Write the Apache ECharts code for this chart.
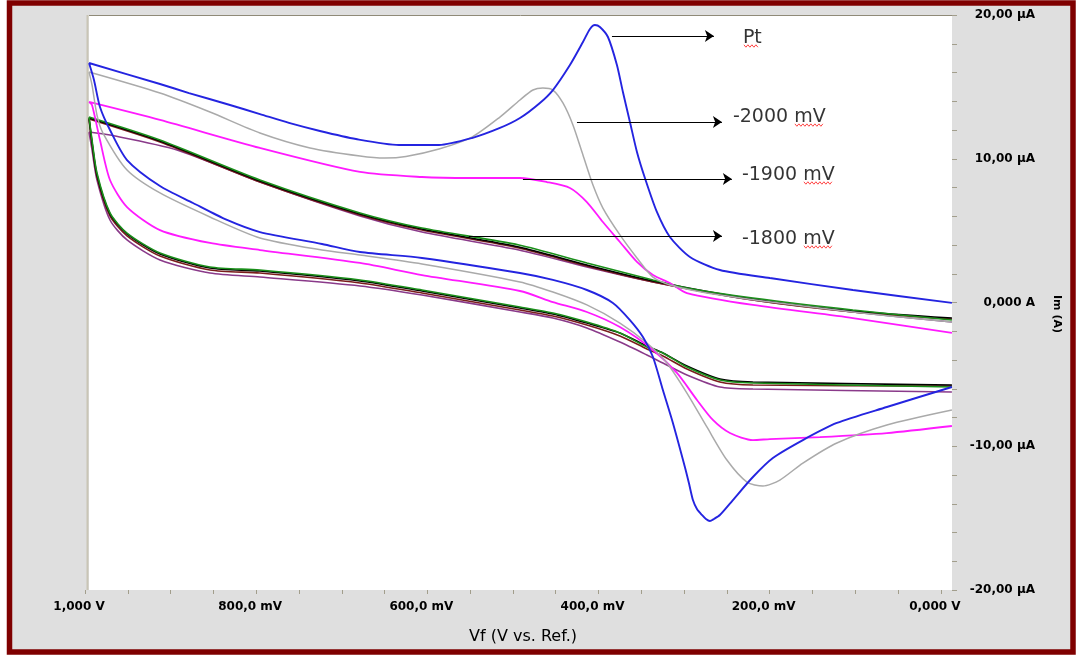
<!DOCTYPE html>
<html>
<head>
<meta charset="utf-8">
<script src="https://cdn.jsdelivr.net/npm/echarts@6/dist/echarts.min.js"></script>
<style>
  html, body { margin: 0; padding: 0; background: #ffffff; }
  #chart { width: 1076px; height: 657px; }
</style>
</head>
<body>
<div id="chart"></div>
<script>
// Cyclic voltammograms: [potential (V vs. Ref.), current (µA)].
// Each scan: forward sweep 1 V -> 0 V, a break (null) at the vertex, then the return sweep.
const ptScan = [
  [0.9953,16.66],[0.9124,15.20],[0.8785,14.57],[0.8306,13.74],[0.7956,13.11],[0.7617,12.49],
  [0.7255,11.93],[0.6834,11.37],[0.6332,10.96],[0.5864,10.96],[0.5479,11.44],[0.5152,12.14],
  [0.4918,12.83],[0.4685,13.88],[0.4533,14.78],[0.4334,16.52],[0.4182,18.12],[0.4100,19.03],
  [0.4042,19.30],[0.3984,19.17],[0.3890,18.47],[0.3785,16.52],[0.3715,14.64],[0.3633,12.56],
  [0.3551,10.47],[0.3458,8.66],[0.3318,6.30],[0.3166,4.56],[0.2932,3.17],[0.2582,2.26],
  [0.1998,1.70],[0.1028,0.87],[-0.0129,-0.03],
  null,
  [-0.0129,-5.88],[0.0631,-7.27],[0.1215,-8.38],[0.1612,-9.57],[0.1963,-10.82],[0.2196,-12.14],
  [0.2430,-13.74],[0.2582,-14.78],[0.2652,-15.06],[0.2699,-15.20],[0.2745,-15.06],[0.2792,-14.78],
  [0.2850,-14.36],[0.2897,-13.74],[0.2944,-12.56],[0.2991,-11.44],
  [0.3131,-8.38],[0.3248,-6.09],[0.3364,-3.79],[0.3481,-2.40],[0.3633,-1.22],[0.3832,-0.03],
  [0.4136,0.87],[0.4533,1.57],[0.4918,2.05],[0.6063,3.10],[0.6787,3.51],[0.7231,4.07],
  [0.7956,4.90],[0.8341,5.74],[0.8738,6.92],[0.9124,8.10],[0.9509,9.91],[0.9708,12.00],
  [0.9825,13.60],[0.9895,15.48],[0.9953,16.66]
];
const mv2000Scan = [
  [0.9953,16.03],[0.9124,14.57],[0.8540,13.25],[0.7956,11.79],[0.7371,10.75],[0.6787,10.19],
  [0.6495,10.05],[0.6250,10.16],[0.5864,10.68],[0.5479,11.51],[0.5152,12.90],[0.4918,14.09],
  [0.4766,14.78],[0.4650,14.92],[0.4533,14.78],[0.4416,13.88],[0.4299,12.35],[0.4182,10.26],
  [0.4065,8.17],[0.3949,6.57],[0.3750,4.70],[0.3551,3.10],[0.3364,1.77],[0.3166,1.22],
  [0.2582,0.52],[0.1028,-0.66],[-0.0129,-1.36],
  null,
  [-0.0129,-7.48],[0.0631,-8.52],[0.1215,-9.77],[0.1612,-11.17],[0.1881,-12.35],[0.2079,-12.77],
  [0.2266,-12.49],[0.2500,-10.96],[0.2734,-8.66],[0.2967,-6.30],[0.3201,-4.21],[0.3435,-2.82],
  [0.3750,-1.43],[0.4136,-0.17],[0.4533,0.73],[0.4918,1.43],[0.6063,2.68],[0.6787,3.30],
  [0.7231,3.65],[0.7956,4.49],[0.8540,5.95],[0.9124,7.62],[0.9509,9.22],[0.9790,11.79],
  [0.9860,13.04],[0.9918,15.13],[0.9953,16.03]
];
const mv1900Scan = [
  [0.9953,13.95],[0.9124,12.70],[0.7956,10.75],[0.6787,9.08],[0.6063,8.73],[0.5502,8.66],
  [0.4918,8.66],[0.4603,8.38],[0.4334,7.97],[0.4136,6.99],[0.3949,5.60],[0.3750,4.21],
  [0.3551,2.82],[0.3364,1.91],[0.3166,1.36],[0.2967,0.66],[0.2196,-0.17],[0.1028,-1.08],
  [-0.0129,-2.12],
  null,
  [-0.0129,-8.59],[0.0631,-9.08],[0.1414,-9.36],[0.1998,-9.50],[0.2196,-9.57],[0.2465,-9.08],
  [0.2664,-8.17],[0.2850,-6.78],[0.3084,-4.90],[0.3364,-3.30],[0.3750,-1.71],[0.4136,-0.66],
  [0.4533,0.03],[0.4918,0.80],[0.6063,1.91],[0.6787,2.75],[0.7956,3.65],[0.8540,4.14],
  [0.9124,5.04],[0.9509,6.64],[0.9708,8.52],[0.9825,11.30],[0.9918,13.74],[0.9953,13.95]
];
const mv1800Green = [
  [0.9953,12.90],[0.9124,11.30],[0.7956,8.52],[0.6787,6.23],[0.6063,5.18],[0.4930,4.00],
  [0.4136,2.75],[0.3364,1.57],[0.2967,1.01],[0.2196,0.31],[0.1028,-0.52],[-0.0129,-1.22],
  null,
  [-0.0129,-5.88],[0.2196,-5.60],[0.2582,-5.39],[0.2967,-4.49],[0.3248,-3.51],[0.3435,-3.10],
  [0.3750,-2.12],[0.4136,-1.36],[0.4533,-0.73],[0.4918,-0.31],[0.6063,0.87],[0.6787,1.57],
  [0.7956,2.26],[0.8540,2.47],[0.9124,3.44],[0.9509,4.83],[0.9708,6.23],[0.9860,9.01],
  [0.9918,11.30],[0.9953,12.90]
];
const mv1800Black = [
  [0.9953,12.83],[0.9124,11.23],[0.7956,8.45],[0.6787,6.16],[0.6063,5.11],[0.4930,3.86],
  [0.4136,2.61],[0.3364,1.50],[0.2196,0.24],[0.1028,-0.59],[-0.0129,-1.08],
  null,
  [-0.0129,-5.74],[0.2196,-5.53],[0.2582,-5.32],[0.2967,-4.42],[0.3248,-3.51],[0.3435,-3.03],
  [0.3750,-2.12],[0.4136,-1.43],[0.4533,-0.80],[0.4918,-0.38],[0.6063,0.80],[0.6787,1.50],
  [0.7956,2.19],[0.8540,2.40],[0.9124,3.37],[0.9509,4.77],[0.9708,6.16],[0.9860,8.87],
  [0.9918,11.16],[0.9953,12.83]
];
const mv1800Brown = [
  [0.9953,12.76],[0.9124,11.16],[0.7956,8.38],[0.6787,6.09],[0.6063,5.04],[0.4930,3.79],
  [0.4136,2.54],[0.3364,1.43],[0.2196,0.17],[0.1028,-0.66],[-0.0129,-1.15],
  null,
  [-0.0129,-5.81],[0.2196,-5.74],[0.2582,-5.53],[0.2967,-4.63],[0.3248,-3.72],[0.3435,-3.23],
  [0.3750,-2.33],[0.4136,-1.57],[0.4533,-0.94],[0.4918,-0.52],[0.6063,0.66],[0.6787,1.36],
  [0.7956,2.05],[0.8540,2.26],[0.9124,3.23],[0.9509,4.63],[0.9708,6.02],[0.9860,8.73],
  [0.9918,11.03],[0.9953,12.76]
];
const mv1800Purple = [
  [0.9953,11.86],[0.9708,11.65],[0.8925,10.61],[0.7956,8.38],[0.6787,6.02],[0.6063,4.90],
  [0.4930,3.65],[0.4136,2.47],[0.3364,1.43],[0.2196,0.17],[0.1028,-0.66],[-0.0129,-1.36],
  null,
  [-0.0129,-6.23],[0.2196,-6.02],[0.2582,-5.88],[0.2967,-5.04],[0.3248,-4.21],[0.3435,-3.65],
  [0.3750,-2.75],[0.4136,-1.77],[0.4533,-1.08],[0.4918,-0.66],[0.6063,0.52],[0.6787,1.15],
  [0.7956,1.77],[0.8540,2.05],[0.9124,2.96],[0.9509,4.35],[0.9708,5.74],[0.9860,8.52],
  [0.9918,10.61],[0.9953,11.86]
];

// Callout arrows (tail -> head) and their text anchors, in data units.
const calloutNames = ['Pt', '-2000 mV', '-1900 mV', '-1800 mV'];
const calloutTails = [[0.3843, 18.54], [0.4252, 12.56], [0.4883, 8.59], [0.5514, 4.63]];
const calloutHeads = [[0.2652, 18.54], [0.2558, 12.56], [0.2442, 8.59], [0.2558, 4.63]];
const calloutTextAt = [[0.2313, 18.40], [0.2430, 12.90], [0.2325, 8.87], [0.2325, 4.42]];

// Potential axis: plotted window, tick marks and labelled ticks (V)
const xWindow = [-0.013, 1.0];
const xTickValues = [0, 0.05, 0.1, 0.15, 0.2, 0.25, 0.3, 0.35, 0.4, 0.45, 0.5,
                     0.55, 0.6, 0.65, 0.7, 0.75, 0.8, 0.85, 0.9, 0.95, 1.0];
const xLabelValues = [0, 0.2, 0.4, 0.6, 0.8, 1.0];
// Current axis (µA)
const yTickStep = 2;

const FONT = 'DejaVu Sans';

function fmtPotential(v) {
  const m = Math.round(v * 1000);
  if (m % 200 !== 0) return '';
  if (m === 1000) return '1,000 V';
  if (m === 0) return '0,000 V';
  return m + ',0 mV';
}
function fmtCurrent(v) {
  const r = Math.round(v);
  if (r % 10 !== 0) return '';
  if (r === 0) return '0,000 A';
  return r + ',00 \u00B5A';
}

function scan(name, data, color, width) {
  return {
    name: name, type: 'line', data: data, showSymbol: false, smooth: 0.25,
    connectNulls: false, clip: false, lineStyle: { color: color, width: width }, z: 3
  };
}

const arrowSeries = {
  name: 'callouts', type: 'line', data: [], showSymbol: false,
  markLine: {
    silent: true, symbol: ['none', 'arrow'], symbolSize: 9, animation: false,
    lineStyle: { color: '#000', width: 1.2, type: 'solid' },
    label: { show: false },
    data: calloutTails.map((t, i) => [{ coord: t }, { coord: calloutHeads[i] }])
  }
};

const calloutText = {
  name: 'callout text', type: 'scatter', symbolSize: 0, silent: true, clip: false,
  data: calloutTextAt.map((p, i) => [p[0], p[1], calloutNames[i]]),
  label: {
    show: true, position: 'right', distance: 0,
    formatter: p => p.value[2],
    fontFamily: FONT, fontSize: 19, color: '#000'
  },
  z: 5
};

const chart = echarts.init(document.getElementById('chart'), null, { renderer: 'canvas' });

chart.setOption({
  animation: false,
  backgroundColor: '#ffffff',
  grid: { left: 85, top: 15, width: 867, height: 575, containLabel: false },
  xAxis: {
    type: 'value', min: xWindow[0], max: xWindow[1], inverse: true,
    axisLine: { show: false, onZero: false },
    splitLine: { show: false },
    axisTick: { show: true, length: 4, customValues: xTickValues,
                lineStyle: { color: '#a29e8c', width: 1 } },
    axisLabel: {
      customValues: xLabelValues,
      formatter: fmtPotential, margin: 11, padding: [0, 12, 0, 0],
      fontFamily: FONT, fontSize: 12, fontWeight: 'bold', color: '#000'
    },
    name: 'Vf (V vs. Ref.)', nameLocation: 'middle', nameGap: 39,
    nameTextStyle: { fontFamily: FONT, fontSize: 16, color: '#000', padding: [0, 0, 0, 9] }
  },
  yAxis: {
    type: 'value', min: -20, max: 20, interval: yTickStep, position: 'right',
    axisLine: { show: false, onZero: false },
    splitLine: { show: false },
    axisTick: { show: true, length: 5, lineStyle: { color: '#a29e8c', width: 1 } },
    axisLabel: {
      formatter: fmtCurrent, margin: 83, align: 'right',
      fontFamily: FONT, fontSize: 12, fontWeight: 'bold', color: '#000'
    }
  },
  graphic: [
    { type: 'rect', z: -10, silent: true,
      shape: { x: 9.5, y: 3, width: 1063.5, height: 649 },
      style: { fill: '#dfdfdf', stroke: '#7f0000', lineWidth: 5.5 } },
    { type: 'rect', z: -9, silent: true,
      shape: { x: 89, y: 15, width: 863, height: 575 },
      style: { fill: '#ffffff' } },
    { type: 'line', z: -8, silent: true,
      shape: { x1: 89, y1: 15.5, x2: 952, y2: 15.5 },
      style: { stroke: '#8f8a78', lineWidth: 1 } },
    { type: 'line', z: -8, silent: true,
      shape: { x1: 87.5, y1: 15, x2: 87.5, y2: 590 },
      style: { stroke: '#c9c5b6', lineWidth: 2 } },
    { type: 'text', z: 5, silent: true, x: 1057, y: 314, rotation: -Math.PI / 2,
      style: { text: 'Im (A)', fontFamily: FONT, fontSize: 11, fontWeight: 'bold',
               fill: '#000', align: 'center', verticalAlign: 'middle' } }
  ],
  series: [
    scan('-1800 mV (4)', mv1800Purple, '#8a3a8a', 1.6),
    scan('-1800 mV (3)', mv1800Brown, '#7a1c1c', 1.6),
    scan('-1800 mV (2)', mv1800Black, '#000000', 1.6),
    scan('-1800 mV (1)', mv1800Green, '#1a8f1a', 1.6),
    scan('-1900 mV', mv1900Scan, '#ff1aff', 1.8),
    scan('-2000 mV', mv2000Scan, '#aaaaaa', 1.5),
    scan('Pt', ptScan, '#2424e0', 1.9),
    arrowSeries,
    calloutText
  ]
});

// Red wavy spell-check underlines beneath "Pt" and each "mV".
(function addSquiggles() {
  const extra = [];
  calloutTextAt.forEach((p, i) => {
    const px = chart.convertToPixel({ xAxisIndex: 0, yAxisIndex: 0 }, [p[0], p[1]]);
    const start = i === 0 ? 1 : 62;
    const end = i === 0 ? 16 : 91;
    const pts = [];
    let k = 0;
    for (let x = px[0] + start; x <= px[0] + end; x += 2, k++) {
      pts.push([x, px[1] + 8 + (k % 2 === 0 ? -1.2 : 1.2)]);
    }
    extra.push({ type: 'polyline', z: 6, silent: true, shape: { points: pts },
                 style: { stroke: '#ff3030', lineWidth: 0.9, fill: null } });
  });
  const g = chart.getOption().graphic[0].elements;
  chart.setOption({ graphic: g.concat(extra) });
})();
</script>
</body>
</html>
